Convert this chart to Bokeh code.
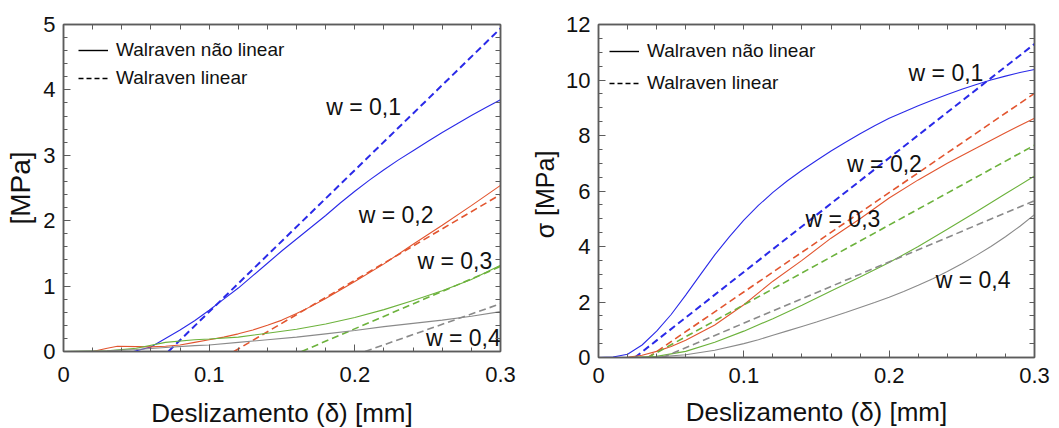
from bokeh.plotting import figure
from bokeh.layouts import row
from bokeh.models import (Range1d, FixedTicker, LinearAxis, Legend, LegendItem,
                          CustomJSTickFormatter, ColumnDataSource)
from bokeh.core.properties import value
from bokeh.embed import file_html
from bokeh.resources import INLINE

# ---------------- Left panel data (MPa vs mm) ----------------
L_x_nl_01 = [0, 0.048, 0.06, 0.07, 0.08, 0.09, 0.10, 0.11, 0.12, 0.13, 0.14, 0.15, 0.16, 0.17, 0.18, 0.19, 0.20,
             0.21, 0.22, 0.23, 0.24, 0.25, 0.26, 0.27, 0.28, 0.29, 0.30]
L_y_nl_01 = [0, 0.0, 0.07, 0.20, 0.33, 0.47, 0.63, 0.80, 0.97, 1.16, 1.35, 1.54, 1.72, 1.90, 2.08, 2.27, 2.45,
             2.62, 2.78, 2.93, 3.07, 3.21, 3.35, 3.48, 3.61, 3.73, 3.85]
L_x_li_01 = [0.072, 0.30]
L_y_li_01 = [0.0, 4.94]

L_x_nl_02 = [0, 0.02, 0.03, 0.037, 0.05, 0.06, 0.07, 0.08, 0.09, 0.10, 0.11, 0.12, 0.13, 0.14, 0.15, 0.16, 0.17,
             0.18, 0.19, 0.20, 0.22, 0.24, 0.26, 0.28, 0.30]
L_y_nl_02 = [0, 0.0, 0.05, 0.08, 0.075, 0.07, 0.08, 0.10, 0.14, 0.18, 0.22, 0.27, 0.33, 0.40, 0.48, 0.58, 0.69,
             0.81, 0.94, 1.07, 1.34, 1.64, 1.93, 2.23, 2.54]
L_x_li_02 = [0.117, 0.30]
L_y_li_02 = [0.0, 2.40]

L_x_nl_03 = [0, 0.03, 0.05, 0.07, 0.09, 0.10, 0.12, 0.14, 0.16, 0.18, 0.20, 0.22, 0.24, 0.26, 0.28, 0.30]
L_y_nl_03 = [0, 0.01, 0.05, 0.14, 0.18, 0.19, 0.22, 0.28, 0.34, 0.42, 0.52, 0.64, 0.78, 0.93, 1.10, 1.32]
L_x_li_03 = [0.1635, 0.30]
L_y_li_03 = [0.0, 1.30]

L_x_nl_04 = [0, 0.03, 0.05, 0.07, 0.09, 0.10, 0.12, 0.14, 0.16, 0.18, 0.20, 0.22, 0.24, 0.26, 0.28, 0.30]
L_y_nl_04 = [0, 0.01, 0.03, 0.06, 0.09, 0.10, 0.14, 0.18, 0.22, 0.27, 0.32, 0.38, 0.43, 0.48, 0.54, 0.61]
L_x_li_04 = [0.207, 0.30]
L_y_li_04 = [0.0, 0.73]

L_labels = ["w = 0,1", "w = 0,2", "w = 0,3", "w = 0,4"]
L_label_x = [0.2060, 0.2283, 0.2687, 0.2745]
L_label_y = [3.74, 2.08, 1.38, 0.21]

# ---------------- Right panel data (sigma MPa vs mm) ----------------
R_x_nl_01 = [0, 0.01, 0.02, 0.03, 0.04, 0.05, 0.06, 0.07, 0.08, 0.09, 0.10, 0.11, 0.12, 0.13, 0.14, 0.15, 0.16,
             0.17, 0.18, 0.19, 0.20, 0.21, 0.22, 0.23, 0.24, 0.25, 0.26, 0.27, 0.28, 0.29, 0.30]
R_y_nl_01 = [0, 0.02, 0.12, 0.45, 0.95, 1.55, 2.25, 2.98, 3.70, 4.35, 4.95, 5.48, 5.95, 6.37, 6.75, 7.10, 7.44,
             7.76, 8.06, 8.35, 8.62, 8.85, 9.07, 9.28, 9.48, 9.67, 9.84, 10.00, 10.14, 10.27, 10.38]
R_x_li_01 = [0.025, 0.30]
R_y_li_01 = [0.0, 11.3]

R_x_nl_02 = [0, 0.02, 0.03, 0.04, 0.05, 0.06, 0.08, 0.10, 0.12, 0.14, 0.16, 0.18, 0.20, 0.22, 0.24, 0.26, 0.28, 0.30]
R_y_nl_02 = [0, 0.01, 0.08, 0.22, 0.40, 0.62, 1.17, 1.90, 2.75, 3.50, 4.30, 5.00, 5.75, 6.40, 7.00, 7.55, 8.10, 8.62]
R_x_li_02 = [0.034, 0.30]
R_y_li_02 = [0.0, 9.52]

R_x_nl_03 = [0, 0.02, 0.04, 0.06, 0.08, 0.10, 0.12, 0.14, 0.16, 0.18, 0.20, 0.22, 0.24, 0.26, 0.28, 0.30]
R_y_nl_03 = [0, 0.0, 0.04, 0.22, 0.55, 0.95, 1.40, 1.88, 2.40, 2.90, 3.42, 4.00, 4.62, 5.25, 5.90, 6.54]
R_x_li_03 = [0.034, 0.30]
R_y_li_03 = [0.0, 7.65]

R_x_nl_04 = [0, 0.02, 0.04, 0.06, 0.08, 0.10, 0.11, 0.12, 0.13, 0.14, 0.15, 0.16, 0.17, 0.18, 0.19, 0.20, 0.21,
             0.22, 0.23, 0.24, 0.25, 0.26, 0.27, 0.28, 0.29, 0.30]
R_y_nl_04 = [0, 0.0, 0.02, 0.10, 0.26, 0.50, 0.64, 0.80, 0.96, 1.12, 1.28, 1.45, 1.62, 1.80, 1.98, 2.17, 2.38,
             2.60, 2.84, 3.10, 3.38, 3.68, 4.00, 4.35, 4.73, 5.15]
R_x_li_04 = [0.044, 0.30]
R_y_li_04 = [0.0, 5.65]

R_labels = ["w = 0,1", "w = 0,2", "w = 0,3", "w = 0,4"]
R_label_x = [0.2391, 0.1968, 0.1682, 0.2577]
R_label_y = [10.27, 6.98, 5.0, 2.81]

X_TICKS = [0, 0.1, 0.2, 0.3]
X_MINOR = [round(0.02 * i, 3) for i in range(16)]
L_Y_TICKS = [0, 1, 2, 3, 4, 5]
L_Y_MINOR = [round(0.2 * i, 2) for i in range(26)]
R_Y_TICKS = [0, 2, 4, 6, 8, 10, 12]
R_Y_MINOR = [0.5 * i for i in range(25)]
X_TITLE = "Deslizamento (δ) [mm]"
L_Y_TITLE = "[MPa]"
R_Y_TITLE = "σ  [MPa]"
LEG_NL = "Walraven não linear"
LEG_LI = "Walraven linear"

# ---------------- styles ----------------
COLORS = ["#2a2ae8", "#e2552f", "#6cb23c", "#8a8a8a"]
FONT = "Liberation Sans"
FRAME = "#5c5c5c"
TXT = "#111111"

fmt = CustomJSTickFormatter(code="return tick == 0 ? '0' : (Math.abs(tick) < 1 ? tick.toFixed(1) : tick.toFixed(0));")


def style_axis(ax, ticker, labels=True):
    ax.ticker = ticker
    ax.axis_line_color = FRAME
    ax.axis_line_width = 1.5
    ax.major_tick_line_color = FRAME
    ax.minor_tick_line_color = FRAME
    ax.major_tick_in = 7
    ax.major_tick_out = 0
    ax.minor_tick_in = 4 if labels else 5
    ax.minor_tick_out = 0
    if labels:
        ax.formatter = fmt
        ax.major_label_text_font = FONT
        ax.major_label_text_font_size = "22px"
        ax.major_label_text_color = TXT
        ax.axis_label_text_font = FONT
        ax.axis_label_text_font_style = "normal"
        ax.axis_label_text_color = TXT


def panel(width, height, mb, ymax, yticks, yminor, ytitle, ytitle_size, xstand, ystand,
          series, labels, lab_x, lab_y, leg_margin, leg_padding, leg_glyph_h, leg_spacing):
    p = figure(width=width, height=height, output_backend="svg", toolbar_location=None,
               x_range=Range1d(0, 0.3), y_range=Range1d(0, ymax),
               min_border_left=mb[0], min_border_right=mb[1],
               min_border_top=mb[2], min_border_bottom=mb[3])
    p.xgrid.visible = False
    p.ygrid.visible = False
    p.outline_line_color = FRAME
    p.outline_line_width = 1.5
    p.background_fill_color = "white"
    p.border_fill_color = "white"

    style_axis(p.xaxis[0], FixedTicker(ticks=X_TICKS, minor_ticks=X_MINOR))
    style_axis(p.yaxis[0], FixedTicker(ticks=yticks, minor_ticks=yminor))
    p.xaxis[0].axis_label = X_TITLE
    p.xaxis[0].axis_label_text_font_size = "26px"
    p.xaxis[0].major_label_standoff = xstand[0]
    p.xaxis[0].axis_label_standoff = xstand[1]
    p.yaxis[0].axis_label = ytitle
    p.yaxis[0].axis_label_text_font_size = ytitle_size
    p.yaxis[0].major_label_standoff = ystand[0]
    p.yaxis[0].axis_label_standoff = ystand[1]

    # label-less frame ticks on top and right
    top = LinearAxis()
    style_axis(top, FixedTicker(ticks=[], minor_ticks=X_MINOR), labels=False)
    p.add_layout(top, "above")
    right = LinearAxis()
    style_axis(right, FixedTicker(ticks=[], minor_ticks=yminor), labels=False)
    p.add_layout(right, "right")

    for (xs, ys, xd, yd), c in zip(series, COLORS):
        p.line(xs, ys, line_color=c, line_width=1.1)
        p.line(xd, yd, line_color=c, line_width=2.0 if c == COLORS[0] else 1.6, line_dash="7 4")

    src = ColumnDataSource(dict(x=lab_x, y=lab_y, t=labels))
    p.text(x="x", y="y", text="t", source=src, text_font=value(FONT), text_font_size="23px",
           text_color=TXT, text_align="center", text_baseline="middle")

    # legend proxies (single off-range point, nothing drawn in the frame)
    r_nl = p.line([-1], [-1], line_color="black", line_width=1.4)
    r_li = p.line([-1], [-1], line_color="black", line_width=1.4, line_dash="5 3")
    leg = Legend(items=[LegendItem(label=LEG_NL, renderers=[r_nl]),
                        LegendItem(label=LEG_LI, renderers=[r_li])],
                 location="top_left", border_line_alpha=0, background_fill_alpha=0,
                 label_text_font=FONT, label_text_font_size="19px", label_text_color=TXT,
                 glyph_width=30, glyph_height=leg_glyph_h, label_standoff=8,
                 margin=leg_margin, padding=leg_padding, spacing=leg_spacing)
    p.add_layout(leg, "center")
    return p


left_series = [(L_x_nl_01, L_y_nl_01, L_x_li_01, L_y_li_01),
               (L_x_nl_02, L_y_nl_02, L_x_li_02, L_y_li_02),
               (L_x_nl_03, L_y_nl_03, L_x_li_03, L_y_li_03),
               (L_x_nl_04, L_y_nl_04, L_x_li_04, L_y_li_04)]
right_series = [(R_x_nl_01, R_y_nl_01, R_x_li_01, R_y_li_01),
                (R_x_nl_02, R_y_nl_02, R_x_li_02, R_y_li_02),
                (R_x_nl_03, R_y_nl_03, R_x_li_03, R_y_li_03),
                (R_x_nl_04, R_y_nl_04, R_x_li_04, R_y_li_04)]

p1 = panel(516, 434, (63, 16, 24, 83), 5, L_Y_TICKS, L_Y_MINOR, L_Y_TITLE, "28px", (15, 13), (8, 4),
           left_series, L_labels, L_label_x, L_label_y, 5, 10, 22, 6)
p2 = panel(543, 440, (82, 25, 24, 82), 12, R_Y_TICKS, R_Y_MINOR, R_Y_TITLE, "25px", (10, 11), (8, 4),
           right_series, R_labels, R_label_x, R_label_y, 1, 10, 32, -3)

layout = row(p1, p2)
open("out.html", "w").write(file_html(layout, INLINE))
